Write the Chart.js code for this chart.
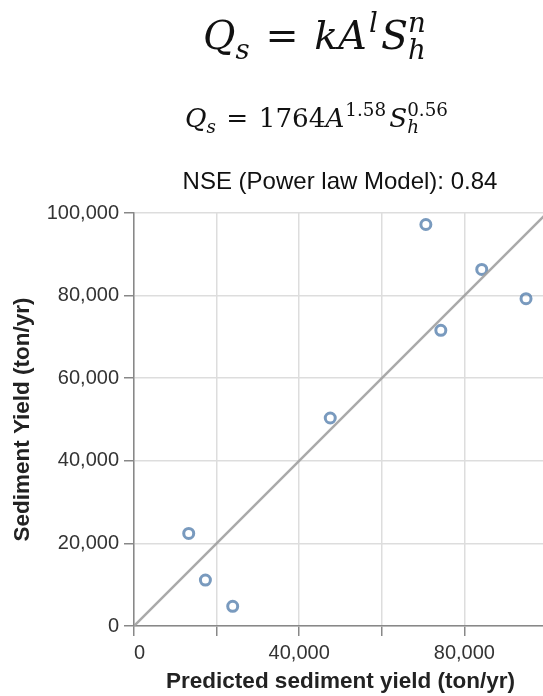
<!DOCTYPE html>
<html>
<head>
<meta charset="utf-8">
<script src="https://cdn.jsdelivr.net/npm/chart.js@4"></script>
<style>
  html, body { margin: 0; padding: 0; background: #fff; overflow: hidden; }
  #wrap { position: relative; width: 543px; height: 696px; overflow: hidden; }
  canvas { position: absolute; left: 0; top: 0; }
  .eq { position: absolute; white-space: nowrap; font-family: "DejaVu Serif", serif; line-height: 1; color: #111; }
  .eq i { font-style: italic; }
  .sm { font-size: 0.7em; position: relative; }
  .lo { top: 0.35em; }
  .hi { top: -0.62em; }
  .title { position: absolute; left: 0; width: 680px; top: 169px; text-align: center;
           font: 24px "Liberation Sans", Arial, sans-serif; line-height: 24px; color: #111; }
</style>
</head>
<body>
<div id="wrap">
  <canvas id="scatter" width="560" height="696"></canvas>

  <div class="eq" id="eq1" style="font-size:39.5px; left:203px; top:16px;">
    <i>Q</i><span class="sm lo"><i>s</i></span><span style="margin:0 0.4em">=</span><i>k</i><i>A</i><span class="sm hi" style="margin-left:0.08em"><i>l</i></span><i style="margin-left:0.08em">S</i><span class="sm lo"><i>h</i></span><span class="sm hi" style="margin-left:-0.644em"><i>n</i></span>
  </div>

  <div class="eq" id="eq2" style="font-size:26.2px; left:185px; top:105px;">
    <i>Q</i><span class="sm lo"><i>s</i></span><span style="margin:0 0.4em">=</span>1764<i>A</i><span class="sm hi" style="margin-left:0.05em">1.58</span><i style="margin-left:0.12em">S</i><span class="sm lo"><i>h</i></span><span class="sm hi" style="margin-left:-0.644em">0.56</span>
  </div>

  <div class="title">NSE (Power law Model): 0.84</div>
</div>

<script>
// predicted vs observed sediment yield (ton/yr)
const predicted = [13250, 17290, 23900, 47520, 70670, 74290, 84200, 94920];
const observed  = [22420, 11120, 4760, 50370, 97220, 71580, 86340, 79250];

// 1:1 reference line
const lineX = [0, 100000];
const lineY = [0, 100000];

const xLabeled = [0, 40000, 80000];
const yLabeled = [0, 20000, 40000, 60000, 80000, 100000];

const fmt = v => v.toLocaleString('en-US');
const tickFont = { family: '"Liberation Sans", Arial, sans-serif', size: 20 };
const titleFont = { family: '"Liberation Sans", Arial, sans-serif', size: 22.5, weight: 'bold' };

const ctx = document.getElementById('scatter').getContext('2d');
new Chart(ctx, {
  type: 'scatter',
  data: {
    datasets: [
      {
        data: lineX.map((x, i) => ({ x: x, y: lineY[i] })),
        showLine: true,
        borderColor: 'rgba(160,160,160,0.9)',
        borderWidth: 2.5,
        pointRadius: 0,
      },
      {
        data: predicted.map((x, i) => ({ x: x, y: observed[i] })),
        pointStyle: 'circle',
        pointRadius: 5,
        borderWidth: 3,
        borderColor: 'rgba(76,120,168,0.75)',
        backgroundColor: 'rgba(0,0,0,0)',
      },
    ],
  },
  options: {
    responsive: false,
    animation: false,
    layout: { padding: { top: 213, right: 13, bottom: 0, left: 0 } },
    plugins: { legend: { display: false }, tooltip: { enabled: false } },
    scales: {
      x: {
        type: 'linear',
        min: 0,
        max: 100000,
        afterFit: s => { s.height = 70; },
        grid: { color: '#dddddd', lineWidth: 1.5, tickColor: '#888', tickLength: 10 },
        border: { color: '#888', width: 1.5 },
        ticks: {
          stepSize: 20000,
          autoSkip: false,
          maxRotation: 0,
          align: 'inner',
          padding: 5,
          color: '#333',
          font: tickFont,
          callback: v => (xLabeled.includes(v) ? fmt(v) : ''),
        },
        title: {
          display: true,
          text: 'Predicted sediment yield (ton/yr)',
          color: '#222',
          font: titleFont,
          padding: { top: 0, bottom: 0.5 },
        },
      },
      y: {
        type: 'linear',
        min: 0,
        max: 100000,
        afterFit: s => { s.width = 134; },
        grid: { color: '#dddddd', lineWidth: 1.5, tickColor: '#888', tickLength: 10 },
        border: { color: '#888', width: 1.5 },
        ticks: {
          stepSize: 20000,
          padding: 5,
          color: '#333',
          font: tickFont,
          callback: v => (yLabeled.includes(v) ? fmt(v) : ''),
        },
        title: {
          display: true,
          text: 'Sediment Yield (ton/yr)',
          color: '#222',
          font: titleFont,
          padding: { top: 9.5, bottom: 0 },
        },
      },
    },
  },
});
</script>
</body>
</html>
